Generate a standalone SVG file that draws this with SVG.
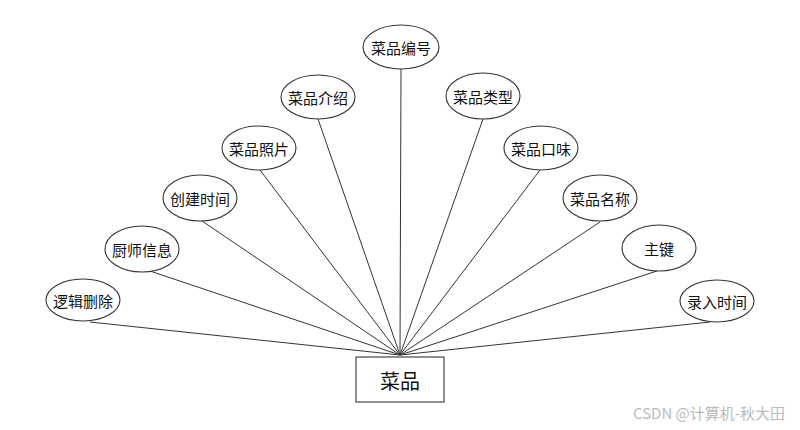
<svg xmlns="http://www.w3.org/2000/svg" width="800" height="430" viewBox="0 0 800 430">
<style>
.attr ellipse{fill:#fff;stroke:#333;stroke-width:1.1}
.attr text{font-family:"Noto Sans CJK SC","Noto Sans",sans-serif;font-size:15px;fill:#111;text-anchor:middle;dominant-baseline:central}
#connectors line{stroke:#333;stroke-width:1}
</style>
<rect width="800" height="430" fill="#fff"/>
<g id="connectors">
<line x1="401" y1="69" x2="400" y2="355"/>
<line x1="318" y1="119" x2="400" y2="355"/>
<line x1="260" y1="170" x2="400" y2="355"/>
<line x1="202" y1="221" x2="400" y2="355"/>
<line x1="150" y1="271" x2="400" y2="355"/>
<line x1="90" y1="322" x2="400" y2="355"/>
<line x1="483" y1="119" x2="400" y2="355"/>
<line x1="540" y1="170" x2="400" y2="355"/>
<line x1="600" y1="222" x2="400" y2="355"/>
<line x1="657" y1="271" x2="400" y2="355"/>
<line x1="710" y1="322" x2="400" y2="355"/>
</g>
<g id="entity">
<rect x="356" y="357" width="88" height="45" fill="#fff" stroke="#333" stroke-width="1.1"/>
<text x="400" y="380" font-family="'Noto Sans CJK SC',sans-serif" font-size="20" fill="#111" text-anchor="middle" dominant-baseline="central">菜品</text>
</g>
<g id="a1" class="attr"><ellipse cx="401" cy="47" rx="38" ry="22"/><text x="401" y="47">菜品编号</text></g>
<g id="a2" class="attr"><ellipse cx="318" cy="97" rx="37" ry="22"/><text x="318" y="97">菜品介绍</text></g>
<g id="a3" class="attr"><ellipse cx="259" cy="148" rx="37" ry="22"/><text x="259" y="148">菜品照片</text></g>
<g id="a4" class="attr"><ellipse cx="200" cy="198" rx="37" ry="23"/><text x="200" y="198">创建时间</text></g>
<g id="a5" class="attr"><ellipse cx="142" cy="249" rx="37" ry="23"/><text x="142" y="249">厨师信息</text></g>
<g id="a6" class="attr"><ellipse cx="83" cy="300" rx="37" ry="21"/><text x="83" y="300">逻辑删除</text></g>
<g id="a7" class="attr"><ellipse cx="483" cy="96" rx="37" ry="23"/><text x="483" y="96">菜品类型</text></g>
<g id="a8" class="attr"><ellipse cx="541" cy="148" rx="37" ry="22"/><text x="541" y="148">菜品口味</text></g>
<g id="a9" class="attr"><ellipse cx="600" cy="198" rx="37" ry="23"/><text x="600" y="198">菜品名称</text></g>
<g id="a10" class="attr"><ellipse cx="659" cy="248" rx="37" ry="23"/><text x="659" y="248">主键</text></g>
<g id="a11" class="attr"><ellipse cx="717" cy="301" rx="37" ry="21"/><text x="717" y="301">录入时间</text></g>
<text x="785" y="412" font-family="'Noto Sans CJK SC','Noto Sans',sans-serif" font-size="15" fill="#bbb" text-anchor="end" dominant-baseline="central">CSDN @计算机-秋大田</text>
</svg>
